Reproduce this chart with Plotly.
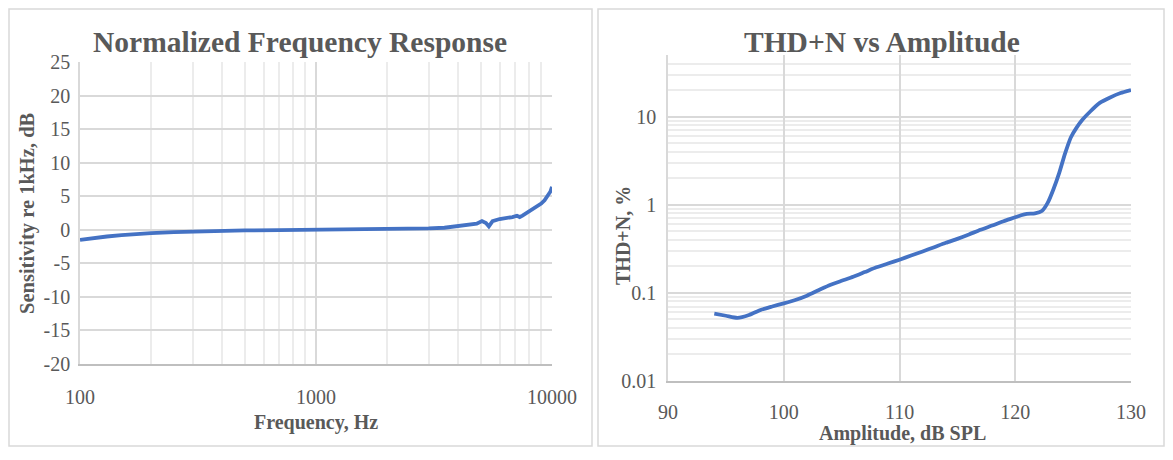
import plotly.graph_objects as go
import numpy as np

# ---- Left chart: Normalized Frequency Response ----
freq_hz = [100, 110, 120, 130, 150, 170, 200, 250, 300, 400, 500, 700, 1000, 1500,
           2000, 2500, 3000, 3500, 4000, 4500, 4800, 5050, 5250, 5400, 5600, 6000,
           6400, 6800, 7100, 7300, 7500, 7800, 8200, 8600, 9000, 9300, 9600, 9850, 10000]
sens_db = [-1.5, -1.3, -1.15, -1.0, -0.8, -0.65, -0.5, -0.35, -0.25, -0.15, -0.1, -0.05, 0.0, 0.0,
           0.05, 0.1, 0.2, 0.3, 0.5, 0.7, 0.9, 1.3, 1.0, 0.5, 1.3, 1.6,
           1.7, 1.9, 2.1, 1.9, 2.1, 2.5, 3.0, 3.4, 3.9, 4.4, 5.0, 5.7, 6.4]
fr_yticks = [-20, -15, -10, -5, 0, 5, 10, 15, 20, 25]
fr_yticklabels = ["-20", "-15", "-10", "-5", "0", "5", "10", "15", "20", "25"]
fr_xticks = [100, 1000, 10000]
fr_xticklabels = ["100", "1000", "10000"]

# ---- Right chart: THD+N vs Amplitude ----
amp_db = [94, 95, 96, 97, 98, 99, 100, 101, 102, 103, 104, 105, 106, 107, 108, 109, 110,
          111, 112, 113, 114, 115, 116, 117, 118, 119, 120, 120.5, 121, 121.7, 122.3, 122.8,
          123.3, 123.8, 124.3, 124.8, 125.3, 125.8, 126.5, 127.3, 128.2, 129.1, 130]
thd_pct = [0.058, 0.055, 0.052, 0.056, 0.064, 0.07, 0.076, 0.083, 0.093, 0.107, 0.123, 0.137,
           0.152, 0.172, 0.195, 0.215, 0.238, 0.265, 0.295, 0.33, 0.37, 0.41, 0.46, 0.52, 0.58,
           0.65, 0.72, 0.76, 0.79, 0.8, 0.85, 1.05, 1.5, 2.3, 3.8, 5.8, 7.5, 9.2, 11.5, 14.3,
           16.5, 18.5, 20.0]
thd_yticks = [0.01, 0.1, 1, 10]
thd_yticklabels = ["0.01", "0.1", "1", "10"]
amp_xticks = [90, 100, 110, 120, 130]

# page renders the figure offset by the body margin (8 px)
OFF = 8
W, H = 1173 - OFF, 460 - OFF
def px(x):
    return (x - OFF) / W
def py(y):
    return 1 - (y - OFF) / H

BLUE = "#4472C4"
TXT = "#595959"
GRID = "#d9d9d9"
AXIS = "#bfbfbf"
MINOR = "#ececec"
FONT = "Liberation Serif"

minor_x_left = [m * d for d in (100, 1000) for m in range(2, 10)]
minor_y_right = [m * d for d in (0.01, 0.1, 1, 10) for m in range(2, 10) if m * d <= 50]

fig = go.Figure()
fig.add_trace(go.Scatter(x=freq_hz, y=sens_db, mode="lines",
                         line=dict(color=BLUE, width=3.8), xaxis="x", yaxis="y",
                         showlegend=False))
fig.add_trace(go.Scatter(x=amp_db, y=thd_pct, mode="lines",
                         line=dict(color=BLUE, width=3.8, shape="spline", smoothing=0.6),
                         xaxis="x2", yaxis="y2", showlegend=False))

tickfont = dict(family=FONT, size=20, color=TXT)

fig.update_layout(
    width=W, height=H, margin=dict(l=0, r=0, t=0, b=0),
    paper_bgcolor="white", plot_bgcolor="white",
    xaxis=dict(domain=[px(80), px(552)], anchor="y", type="log", automargin=False,
               range=[2, 4], tickvals=fr_xticks, ticktext=fr_xticklabels,
               showgrid=True, gridcolor=GRID, gridwidth=1.5,
               minor=dict(tickvals=minor_x_left, showgrid=True, gridcolor=MINOR, gridwidth=1.5, ticks=""),
               showline=True, linecolor=AXIS, linewidth=1.5,
               zeroline=False, ticks="", tickfont=tickfont, ticklabelstandoff=14),
    yaxis=dict(domain=[py(364), py(62)], anchor="x", range=[-20, 25], automargin=False,
               tickvals=fr_yticks, ticktext=fr_yticklabels,
               showgrid=True, gridcolor=GRID, gridwidth=1.5, zeroline=False,
               showline=True, linecolor=GRID, linewidth=1.5, ticks="", tickfont=tickfont,
               ticklabelstandoff=4),
    xaxis2=dict(domain=[px(668), px(1131)], anchor="y2", range=[90, 130], automargin=False,
                tickvals=amp_xticks, showgrid=True, gridcolor=GRID, gridwidth=1.5,
                zeroline=False, showline=True, linecolor=AXIS, linewidth=1.5,
                ticks="", tickfont=tickfont, ticklabelstandoff=12),
    yaxis2=dict(domain=[py(381), py(55)], anchor="x2", type="log", automargin=False,
                range=[-2, np.log10(50)], tickvals=thd_yticks, ticktext=thd_yticklabels,
                showgrid=True, gridcolor=GRID, gridwidth=1.5,
                minor=dict(tickvals=minor_y_right, showgrid=True, gridcolor=MINOR, gridwidth=1.5, ticks=""),
                zeroline=False, showline=True, linecolor=GRID, linewidth=1.5,
                ticks="", tickfont=tickfont, ticklabelstandoff=6),
)

# panel borders
for x0, x1 in ((8, 592), (597, 1164)):
    fig.add_shape(type="rect", xref="paper", yref="paper",
                  x0=px(x0 + 1), x1=px(x1), y0=py(446), y1=py(9),
                  line=dict(color=GRID, width=1.5), layer="below")

def ann(text, x, y, size, angle=0):
    fig.add_annotation(text="<b>%s</b>" % text, xref="paper", yref="paper",
                       x=px(x), y=py(y), showarrow=False, textangle=angle,
                       xanchor="center", yanchor="middle",
                       font=dict(family=FONT, size=size, color=TXT))

ann("Normalized Frequency Response", 300, 42, 29.5)
ann("THD+N vs Amplitude", 882, 42, 29.5)
ann("Frequency, Hz", 316, 422, 20)
ann("Sensitivity re 1kHz, dB", 27, 213, 20.5, -90)
ann("Amplitude, dB SPL", 902, 433, 20)
ann("THD+N, %", 623, 236, 20, -90)

fig.write_html("out.html")
